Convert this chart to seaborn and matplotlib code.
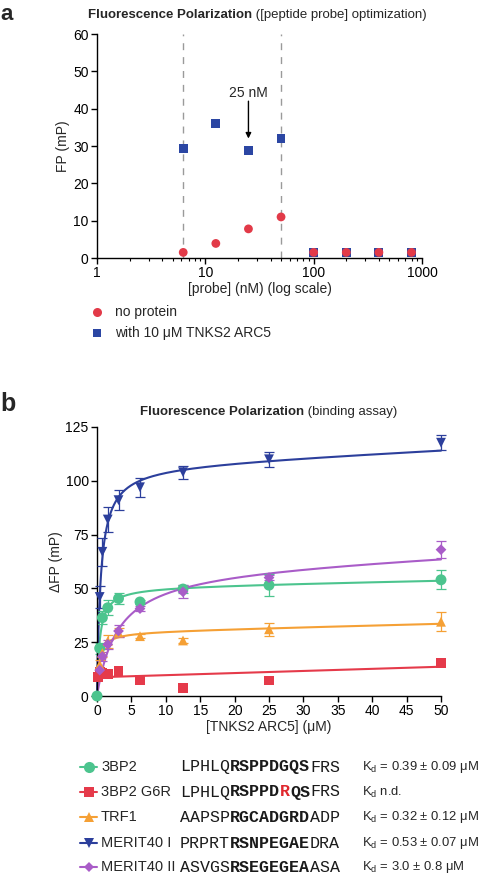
import numpy as np
import pandas as pd
import matplotlib
matplotlib.use("Agg")
import matplotlib.pyplot as plt
import seaborn as sns
from matplotlib.lines import Line2D
from matplotlib.ticker import LogLocator, NullFormatter, FixedLocator, FixedFormatter

# ---------------- Panel a data ----------------
probe_nM = [6.25, 12.5, 25, 50, 100, 200, 400, 800]
fp_no_protein = [1.5, 3.9, 7.8, 11.0, 1.5, 1.5, 1.5, 1.5]
fp_with_arc5 = [29.4, 36.0, 28.7, 32.0, 1.5, 1.5, 1.5, 1.5]
a_xticks = [1, 10, 100, 1000]
a_xticklabels = ["1", "10", "100", "1000"]
a_yticks = [0, 10, 20, 30, 40, 50, 60]
dashed_x = [6.25, 50]
chosen_probe = 25
arrow_y = [42.0, 32.0]

# ---------------- Panel b data ----------------
names = ["3BP2", "3BP2 G6R", "TRF1", "MERIT40 I", "MERIT40 II"]
kd_values = [0.39, None, 0.32, 0.53, 3.0]
# fitted curve parameters (specific Bmax, nonspecific slope)
bmax_values = [50.8, None, 29.8, 107.5, 59.8]
ns_values = [0.063, 0.098, 0.079, 0.153, 0.141]
g6r_intercept = 8.7
x_3bp2 = [0, 0.39, 0.78, 1.5625, 3.125, 6.25, 12.5, 25, 50]
y_3bp2 = [0, 22.2, 36.4, 41.0, 45.3, 43.7, 49.7, 51.5, 54.0]
e_3bp2 = [0, 2.5, 3.0, 3.5, 2.5, 1.0, 2.0, 5.0, 4.5]
x_g6r = [0.195, 0.39, 0.78, 1.5625, 3.125, 6.25, 12.5, 25, 50]
y_g6r = [9.0, 11.4, 10.9, 10.2, 11.7, 7.5, 3.9, 7.2, 15.5]
e_g6r = [0, 0, 0, 0, 0, 0, 0, 0, 0]
x_trf1 = [0.39, 0.78, 1.5625, 3.125, 6.25, 12.5, 25, 50]
y_trf1 = [14.5, 20.0, 25.5, 29.4, 27.8, 25.8, 31.0, 34.5]
e_trf1 = [2.0, 2.0, 3.0, 2.0, 1.0, 1.0, 3.0, 4.5]
x_m1 = [0.39, 0.78, 1.5625, 3.125, 6.25, 12.5, 25, 50]
y_m1 = [46.0, 67.0, 82.0, 91.0, 97.0, 104.0, 110.0, 117.7]
e_m1 = [5.0, 6.5, 6.0, 4.5, 4.5, 3.0, 3.5, 3.4]
x_m2 = [0.39, 0.78, 1.5625, 3.125, 6.25, 12.5, 25, 50]
y_m2 = [12.0, 18.4, 24.0, 30.2, 40.6, 48.4, 55.0, 68.0]
e_m2 = [1.0, 2.0, 2.0, 3.0, 1.0, 3.0, 1.0, 4.0]
b_xticks = list(range(0, 55, 5))
b_yticks = [0, 25, 50, 75, 100, 125]

seq_parts = [
    [("LPHLQ", "normal", "k"), ("RSPPDGQS", "bold", "k"), ("FRS", "normal", "k")],
    [("LPHLQ", "normal", "k"), ("RSPPD", "bold", "k"), ("R", "bold", "#e0282e"),
     ("QS", "bold", "k"), ("FRS", "normal", "k")],
    [("AAPSP", "normal", "k"), ("RGCADGRD", "bold", "k"), ("ADP", "normal", "k")],
    [("PRPRT", "normal", "k"), ("RSNPEGAE", "bold", "k"), ("DRA", "normal", "k")],
    [("ASVGS", "normal", "k"), ("RSEGEGEA", "bold", "k"), ("ASA", "normal", "k")],
]
kd_texts = [" = 0.39 \u00b1 0.09 \u03bcM", " n.d.", " = 0.32 \u00b1 0.12 \u03bcM",
            " = 0.53 \u00b1 0.07 \u03bcM", " = 3.0 \u00b1 0.8 \u03bcM"]

colors = ["#4cc48e", "#e53a4a", "#f5a035", "#2c3f9c", "#a95cc8"]
markers = ["o", "s", "^", "v", "D"]
msizes = [62, 50, 50, 50, 30]

# ---------------- Style ----------------
sns.set_theme(style="ticks")
plt.rcParams["font.family"] = ["Liberation Sans", "DejaVu Sans"]
plt.rcParams["mathtext.default"] = "regular"

W, H = 480, 876
fig = plt.figure(figsize=(W / 100, H / 100), dpi=100)


def fx(x):
    return x / W


def fy(y):
    return 1 - y / H


def style_axes(ax):
    for s in ["top", "right"]:
        ax.spines[s].set_visible(False)
    for s in ["left", "bottom"]:
        ax.spines[s].set_color("black")
        ax.spines[s].set_linewidth(1.0)
    ax.tick_params(axis="both", which="major", direction="out", length=4, width=1.0,
                   labelsize=10, pad=2, color="black", labelcolor="black")
    ax.tick_params(axis="both", which="minor", direction="out", length=2.5, width=0.8,
                   color="black")
    ax.set_facecolor("white")
    ax.grid(False)


# ================= Panel a =================
axa = fig.add_axes([fx(97), fy(258), (422 - 97) / W, (258 - 34) / H])
style_axes(axa)
dfa = pd.DataFrame({"probe": probe_nM, "none": fp_no_protein, "arc5": fp_with_arc5})
for xv in dashed_x:
    axa.axvline(xv, color="#9a9a9a", lw=1.0, ls=(0, (5, 5)), zorder=1)
sns.scatterplot(data=dfa, x="probe", y="arc5", marker="s", s=40, color="#2b46a3",
                edgecolor="none", ax=axa, zorder=3, clip_on=False)
sns.scatterplot(data=dfa, x="probe", y="none", marker="o", s=40, color="#e23a48",
                edgecolor="none", ax=axa, zorder=4, clip_on=False)
axa.set_xscale("log")
axa.set_xlim(1, 1000)
axa.set_ylim(0, 60)
axa.xaxis.set_major_locator(FixedLocator(a_xticks))
axa.xaxis.set_major_formatter(FixedFormatter(a_xticklabels))
axa.xaxis.set_minor_locator(LogLocator(base=10, subs=np.arange(2, 10)))
axa.xaxis.set_minor_formatter(NullFormatter())
axa.set_yticks(a_yticks)
axa.set_xlabel("[probe] (nM) (log scale)", fontsize=10, labelpad=1)
axa.set_ylabel("FP (mP)", fontsize=10, labelpad=2)
axa.annotate("", xy=(chosen_probe, arrow_y[1]), xytext=(chosen_probe, arrow_y[0]),
             arrowprops=dict(arrowstyle="-|>", color="black", lw=1.0,
                             mutation_scale=8, shrinkA=0, shrinkB=0))
axa.text(chosen_probe, arrow_y[0] + 2.3, "25 nM", ha="center", va="center", fontsize=10)

# title a
ta = fig.text(fx(88), fy(15), "Fluorescence Polarization", fontsize=9.5,
              fontweight="bold", ha="left", va="center")
fig.canvas.draw()
axa.annotate(" ([peptide probe] optimization)", xy=(1, 0), xycoords=ta,
             ha="left", va="bottom", fontsize=9.5)
fig.text(fx(0), fy(20.5), "a", fontsize=16, fontweight="bold", ha="left", va="baseline")

# legend a
fig.add_artist(Line2D([fx(97)], [fy(312)], transform=fig.transFigure, marker="o",
                      markersize=6.5, color="#e23a48", markeredgewidth=0, ls="none"))
fig.add_artist(Line2D([fx(97)], [fy(333)], transform=fig.transFigure, marker="s",
                      markersize=6, color="#2b46a3", markeredgewidth=0, ls="none"))
fig.text(fx(115), fy(312), "no protein", fontsize=10, ha="left", va="center")
fig.text(fx(115), fy(333), "with 10 \u03bcM TNKS2 ARC5", fontsize=10, ha="left",
         va="center")

# ================= Panel b =================
axb = fig.add_axes([fx(97), fy(696), (441 - 97) / W, (696 - 427) / H])
style_axes(axb)
series = [(x_3bp2, y_3bp2, e_3bp2), (x_g6r, y_g6r, e_g6r), (x_trf1, y_trf1, e_trf1),
          (x_m1, y_m1, e_m1), (x_m2, y_m2, e_m2)]
xfit = np.concatenate([[0.0], np.geomspace(0.01, 50, 400)])
draw_order = [1, 2, 4, 0, 3]
for i in draw_order:
    xs, ys, es = (np.asarray(v, dtype=float) for v in series[i])
    if kd_values[i] is None:
        yfit = g6r_intercept + ns_values[i] * xfit
    else:
        yfit = bmax_values[i] * xfit / (kd_values[i] + xfit) + ns_values[i] * xfit
    dfit = pd.DataFrame({"x": xfit, "y": yfit})
    sns.lineplot(data=dfit, x="x", y="y", color=colors[i], lw=1.5, ax=axb,
                 zorder=2 + i * 0.1, clip_on=False, sort=False)
    if np.any(es > 0):
        axb.errorbar(xs, ys, yerr=es, fmt="none", ecolor=colors[i], elinewidth=0.9,
                     capsize=3.5, capthick=0.9, zorder=2.5 + i * 0.1, clip_on=False)
    dpts = pd.DataFrame({"x": xs, "y": ys})
    sns.scatterplot(data=dpts, x="x", y="y", marker=markers[i], s=msizes[i],
                    color=colors[i], edgecolor="none", ax=axb, zorder=3 + i * 0.1,
                    clip_on=False)
axb.set_xlim(0, 50)
axb.set_ylim(0, 125)
axb.set_xticks(b_xticks)
axb.set_yticks(b_yticks)
axb.set_xlabel("[TNKS2 ARC5] (\u03bcM)", fontsize=10, labelpad=1)
axb.set_ylabel("\u0394FP (mP)", fontsize=10, labelpad=2)

tb = fig.text(fx(140), fy(412), "Fluorescence Polarization", fontsize=9.5,
              fontweight="bold", ha="left", va="center")
fig.canvas.draw()
axb.annotate(" (binding assay)", xy=(1, 0), xycoords=tb, ha="left", va="bottom",
             fontsize=9.5)
fig.text(fx(0), fy(411), "b", fontsize=18, fontweight="bold", ha="left", va="baseline")

# legend / table b
row_y = [767, 792, 817, 843, 867]
seq_fs = 12
char_px = 0.6 * seq_fs * 100 / 72
for i, ry in enumerate(row_y):
    fig.add_artist(Line2D([fx(80), fx(97)], [fy(ry), fy(ry)], transform=fig.transFigure,
                          color=colors[i], lw=1.5))
    fig.add_artist(Line2D([fx(88.5)], [fy(ry)], transform=fig.transFigure,
                          marker=markers[i], markersize=[8, 7, 7, 7, 5.5][i],
                          color=colors[i], markeredgewidth=0, ls="none"))
    fig.text(fx(101), fy(ry), names[i], fontsize=10.5, ha="left", va="center")
    pos = 0
    for txt, wt, col in seq_parts[i]:
        fig.text(fx(180 + pos * char_px), fy(ry), txt, fontsize=seq_fs,
                 family="Liberation Mono", fontweight=wt, color=col,
                 ha="left", va="center")
        pos += len(txt)
    fig.text(fx(362), fy(ry), "K$_d$" + kd_texts[i], fontsize=9.4, ha="left",
             va="center")

fig.savefig("out.png", dpi=100, facecolor="white")
